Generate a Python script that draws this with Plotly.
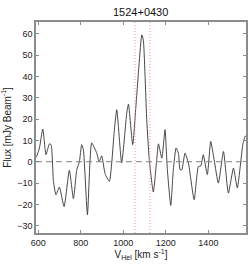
import plotly.graph_objects as go

velocity = [589, 592, 605, 621, 636, 652, 660, 671, 683, 699, 721, 746, 765, 781, 793, 804, 812,
            831, 851, 875, 886, 898, 914, 934, 958, 969, 992, 1016, 1024, 1044, 1062, 1087, 1094,
            1110, 1122, 1141, 1157, 1165, 1181, 1196, 1207, 1223, 1235, 1248, 1259, 1267, 1275,
            1290, 1306, 1333, 1353, 1364, 1376, 1395, 1411, 1427, 1447, 1471, 1494, 1518, 1536,
            1562, 1573, 1577]
flux = [2, 2.5, 6.4, 15.3, 3.3, 8.4, 8, -9.2, -15.5, -11.9, -21, -4, -17.3, -3.7, 0, 8, 5.6,
        -24.8, 8.8, 4, 0, 2.8, -5.6, -9.2, 15.3, 24.4, -0.6, 22.8, 27, 8, 30, 59.5, 57,
        19.7, 1, -14.2, 1, 8.4, 1.7, 15, -3.75, -20.5, -3.75, 6.4, 4, -3.75, -3.75,
        4, -0.6, -17.8, -2.2, -2, 3.3, -6, 9.5, 1, -10, 4.8, -14.7, -3, -12.3,
        8, 11.9, 12]

line_limits = [1055, 1125]
title_text = "1524+0430"
x_ticks = [600, 800, 1000, 1200, 1400]
y_ticks = [-30, -20, -10, 0, 10, 20, 30, 40, 50, 60]

fig = go.Figure()
fig.add_trace(go.Scatter(x=velocity, y=flux, mode="lines",
                         line=dict(color="#333333", width=0.9, shape="spline", smoothing=0.5),
                         showlegend=False, hoverinfo="skip"))
fig.add_hline(y=0, line=dict(color="#808080", width=1, dash="6px,4px"))
for v in line_limits:
    fig.add_vline(x=v, line=dict(color="#ff9090", width=1, dash="1px,2px"))

font = "Liberation Sans, Arial, sans-serif"
axis_common = dict(showgrid=False, zeroline=False, showline=True, linecolor="#8c8c8c",
                   linewidth=1.5, mirror="allticks", ticks="inside", ticklen=3,
                   tickcolor="#8c8c8c", tickwidth=1,
                   tickfont=dict(family=font, size=9, color="#222222"))
fig.update_xaxes(range=[589, 1577], tickvals=x_ticks,
                 title=dict(text="V<sub>Hel</sub> [km s<sup>-1</sup>]",
                            font=dict(family=font, size=10, color="#222222"), standoff=4),
                 **axis_common)
fig.update_yaxes(range=[-33.4, 65.5], tickvals=y_ticks,
                 title=dict(text="Flux [mJy Beam<sup>-1</sup>]",
                            font=dict(family=font, size=10, color="#222222"), standoff=4),
                 **axis_common)
fig.update_layout(width=249, height=265, margin=dict(l=36, r=3, t=22, b=32, autoexpand=False),
                  paper_bgcolor="white", plot_bgcolor="white",
                  title=dict(text=title_text, x=0.565, xanchor="center", y=0.955, yanchor="middle",
                             yref="container", font=dict(family=font, size=11, color="#111111")))
fig.write_html("out.html", config={"displayModeBar": False},
               post_script="document.body.style.margin='0';document.body.style.padding='0';"
                           "document.body.style.overflow='hidden';")
